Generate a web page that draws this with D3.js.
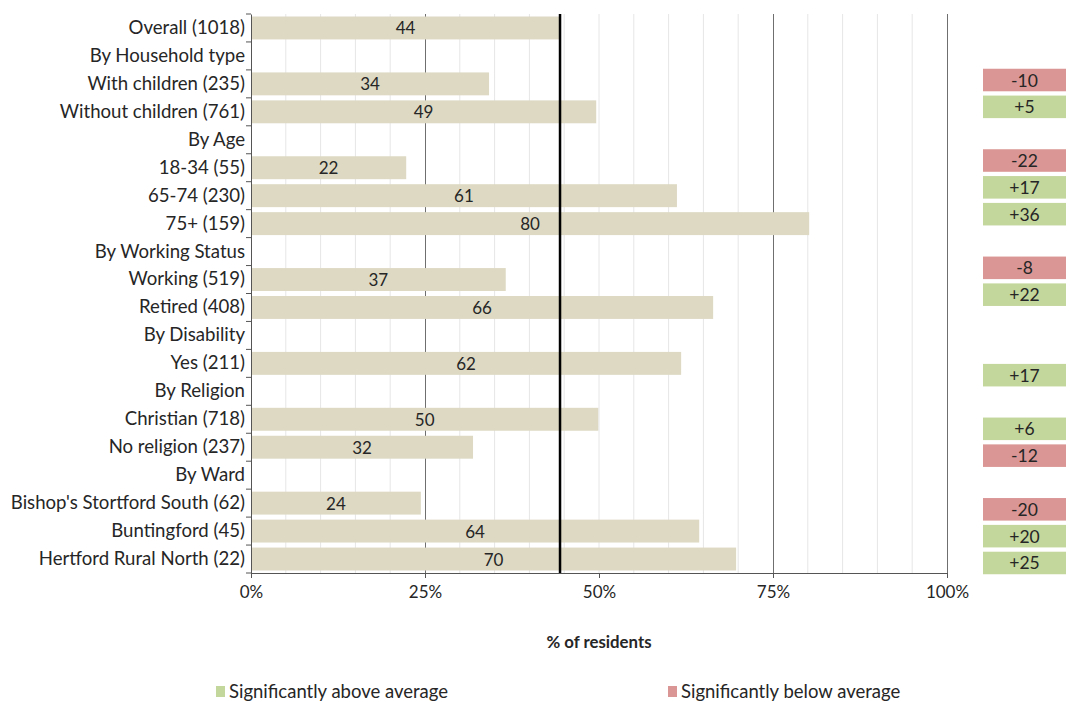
<!DOCTYPE html>
<html><head><meta charset="utf-8">
<script src="https://cdn.jsdelivr.net/npm/d3@7"></script>
<style>
body{margin:0;background:#fff}
svg{display:block}
text{font-family:Lato,"Liberation Sans",sans-serif;fill:#262626}
</style>
</head><body><svg id="c" width="1070" height="702"></svg>
<script>
const categories = ["Overall (1018)","By Household type","With children (235)","Without children (761)","By Age","18-34 (55)","65-74 (230)","75+ (159)","By Working Status","Working (519)","Retired (408)","By Disability","Yes (211)","By Religion","Christian (718)","No religion (237)","By Ward","Bishop's Stortford South (62)","Buntingford (45)","Hertford Rural North (22)"];
const values = [44.4,null,34.2,49.6,null,22.3,61.2,80.2,null,36.6,66.4,null,61.8,null,49.9,31.9,null,24.4,64.4,69.7];
const valueLabels = ["44","","34","49","","22","61","80","","37","66","","62","","50","32","","24","64","70"];
const differences = ["-10","+5",null,"-22","+17","+36",null,"-8","+22",null,null,"+17",null,"+6","-12",null,"-20","+20","+25"];
const xTicks = [0,25,50,75,100];
const minorGrid = [5,10,15,20,30,35,40,45,50,55,60,65,70,80,85,90,95];
const majorGrid = [25,75,100];
const legendItems = ["Significantly above average","Significantly below average"];
const axisTitle = "% of residents";

const svg = d3.select("#c");
const x = d3.scaleLinear().domain([0,100]).range([251,947]);
const y = d3.scaleBand().domain(categories).range([14,573]).paddingInner(0.18).paddingOuter(0.09);
const boxIdx = differences.map((d,i)=>i);
const yb = d3.scaleBand().domain(boxIdx).range([66.6,576.4]).paddingInner(0.16).paddingOuter(0.08);
const avg = values[0];
const barColor = "#ddd9c3", green = "#c3d69b", red = "#da9694";
const FF = 'Lato,"Liberation Sans",sans-serif';

// grid
svg.append("g").selectAll("line").data(minorGrid).join("line")
  .attr("x1",d=>x(d)).attr("x2",d=>x(d)).attr("y1",14).attr("y2",573)
  .attr("stroke","#e6e6e6").attr("stroke-width",1);
svg.append("g").selectAll("line").data(majorGrid).join("line")
  .attr("x1",d=>Math.round(x(d))+0.5).attr("x2",d=>Math.round(x(d))+0.5).attr("y1",14).attr("y2",573)
  .attr("stroke","#6f6f6f").attr("stroke-width",1);

// bars
const rows = categories.map((c,i)=>({c, v: values[i], l: valueLabels[i]})).filter(d=>d.v!=null);
svg.append("g").selectAll("rect").data(rows).join("rect")
  .attr("x",x(0)).attr("y",d=>y(d.c)).attr("width",d=>x(d.v)-x(0)).attr("height",y.bandwidth())
  .attr("fill",barColor);
svg.append("g").selectAll("text").data(rows).join("text")
  .attr("x",d=>(x(0)+x(d.v))/2).attr("y",d=>y(d.c)+y.bandwidth()/2)
  .attr("text-anchor","middle").attr("dominant-baseline","central")
  .attr("font-size",17).text(d=>d.l);

// average line
svg.append("line").attr("x1",x(avg)).attr("x2",x(avg)).attr("y1",14).attr("y2",573)
  .attr("stroke","#000").attr("stroke-width",2.5);

// y axis
const ya = svg.append("g").attr("transform",`translate(${x(0)},0)`)
  .call(d3.axisLeft(y).tickSize(0).tickPadding(6));
ya.select(".domain").attr("stroke","#555");
ya.selectAll("text").attr("font-size",18.6).attr("fill","#262626").style("font-family",FF);
// band boundary ticks
const bounds = categories.map(c=>y(c)-y.step()*y.paddingInner()/2).concat([573]);
svg.append("g").selectAll("line").data(bounds).join("line")
  .attr("x1",x(0)-5).attr("x2",x(0)).attr("y1",d=>d).attr("y2",d=>d)
  .attr("stroke","#555");

// x axis
const xa = svg.append("g").attr("transform","translate(0,573)")
  .call(d3.axisBottom(x).tickValues(xTicks).tickFormat(d=>d+"%").tickSize(5).tickPadding(8).tickSizeOuter(0));
xa.select(".domain").attr("stroke","#555");
xa.selectAll("line").attr("stroke","#555");
xa.selectAll("text").attr("font-size",17).attr("fill","#333").style("font-family",FF);

svg.append("text").attr("x",(x(0)+x(100))/2).attr("y",648).attr("text-anchor","middle")
  .attr("font-size",16.8).attr("font-weight","bold").text(axisTitle);

// difference boxes
const bd = differences.map((d,i)=>({d,i})).filter(o=>o.d!=null);
svg.append("g").selectAll("rect").data(bd).join("rect")
  .attr("x",983).attr("width",83).attr("y",o=>yb(o.i)).attr("height",yb.bandwidth())
  .attr("fill",o=>o.d.startsWith("-")?red:green);
svg.append("g").selectAll("text").data(bd).join("text")
  .attr("x",1024.5).attr("y",o=>yb(o.i)+yb.bandwidth()/2)
  .attr("text-anchor","middle").attr("dominant-baseline","central")
  .attr("font-size",17.5).text(o=>o.d);

// legend
const lg = svg.append("g").selectAll("g").data(legendItems).join("g")
  .attr("transform",(d,i)=>`translate(${i?668:216},686)`);
lg.append("rect").attr("width",9).attr("height",11).attr("fill",(d,i)=>i?red:green);
lg.append("text").attr("x",13).attr("y",5).attr("dominant-baseline","central")
  .attr("font-size",18.5).text(d=>d);
</script></body></html>
